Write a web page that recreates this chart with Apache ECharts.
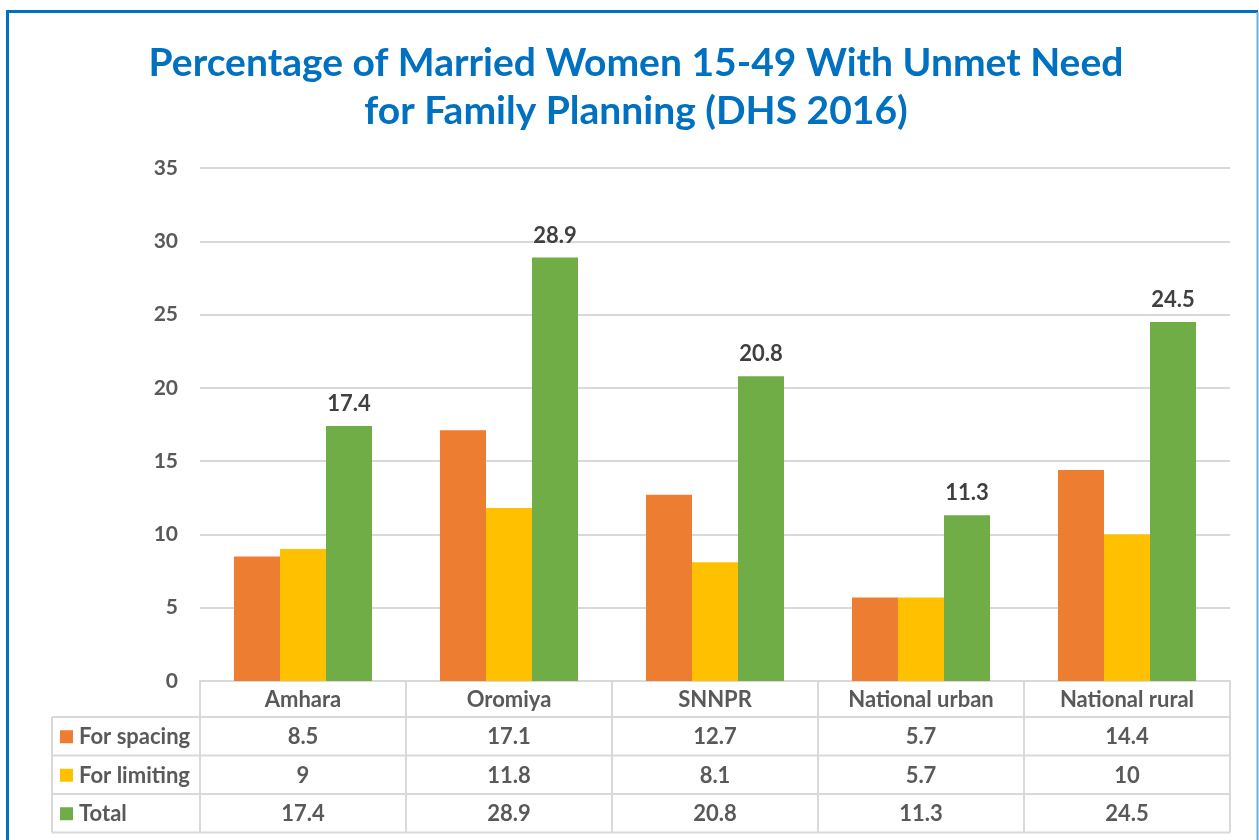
<!DOCTYPE html>
<html>
<head>
<meta charset="utf-8">
<script src="https://cdn.jsdelivr.net/npm/echarts@6/dist/echarts.min.js"></script>
<style>
  html, body { margin: 0; padding: 0; background: #fff; }
  #chart { width: 1259px; height: 840px; }
</style>
</head>
<body>
<div id="chart"></div>
<script>
// data
var categories = ['Amhara', 'Oromiya', 'SNNPR', 'National urban', 'National rural'];
var forSpacing = [8.5, 17.1, 12.7, 5.7, 14.4];
var forLimiting = [9, 11.8, 8.1, 5.7, 10];
var total = [17.4, 28.9, 20.8, 11.3, 24.5];
var yTicks = [0, 5, 10, 15, 20, 25, 30, 35];

var seriesNames = ['For spacing', 'For limiting', 'Total'];
var seriesColors = ['#ED7D31', '#FFC000', '#70AD47'];
var seriesData = [forSpacing, forLimiting, total];

var FONT = 'Lato, "Open Sans", sans-serif';
var TXT = '#595959';
var LINE = '#D9D9D9';

var gridLeft = 200, gridRight = 29, gridTop = 168, gridHeight = 513;
var axisY = gridTop + gridHeight;
var tableLeft = 52;
var headerH = 36, rowH = 38.5;
var colW = (1259 - gridLeft - gridRight) / categories.length;

var myChart = echarts.init(document.getElementById('chart'));

var graphics = [];
// frame
graphics.push({ type: 'line', shape: { x1: 7, y1: 11.5, x2: 1258, y2: 11.5 }, style: { stroke: '#0070C0', lineWidth: 3 } });
graphics.push({ type: 'line', shape: { x1: 7.5, y1: 10, x2: 7.5, y2: 840 }, style: { stroke: '#0070C0', lineWidth: 3 } });
graphics.push({ type: 'line', shape: { x1: 1257.5, y1: 12, x2: 1257.5, y2: 840 }, style: { stroke: '#6AAEE4', lineWidth: 2 } });

// data table below the axis
var tableRight = gridLeft + colW * categories.length;
var tableBottom = axisY + headerH + rowH * seriesNames.length;
for (var r = 0; r <= seriesNames.length; r++) {
  var y = axisY + headerH + rowH * r;
  graphics.push({ type: 'line', shape: { x1: tableLeft, y1: y, x2: tableRight, y2: y }, style: { stroke: LINE, lineWidth: 2 } });
}
graphics.push({ type: 'line', shape: { x1: tableLeft, y1: axisY + headerH, x2: tableLeft, y2: tableBottom }, style: { stroke: LINE, lineWidth: 2 } });

seriesNames.forEach(function (name, s) {
  var cy = axisY + headerH + rowH * (s + 0.5);
  graphics.push({ type: 'rect', shape: { x: 60, y: cy - 6, width: 13, height: 13 }, style: { fill: seriesColors[s] } });
  graphics.push({ type: 'text', x: 79, y: cy + 1, style: { text: name, font: 'bold 22px ' + FONT, fill: TXT, textVerticalAlign: 'middle' } });
  seriesData[s].forEach(function (v, i) {
    graphics.push({
      type: 'text', x: gridLeft + colW * (i + 0.5), y: cy + 1,
      style: { text: String(v), font: 'bold 22px ' + FONT, fill: TXT, textAlign: 'center', textVerticalAlign: 'middle' }
    });
  });
});

var option = {
  animation: false,
  title: {
    text: 'Percentage of Married Women 15-49 With Unmet Need\nfor Family Planning (DHS 2016)',
    left: 631,
    textAlign: 'center',
    top: 34,
    textStyle: { fontFamily: FONT, fontSize: 39, fontWeight: 'bold', color: '#0070C0', lineHeight: 48 }
  },
  grid: { left: gridLeft, right: gridRight, top: gridTop, height: gridHeight },
  xAxis: {
    type: 'category',
    data: categories,
    axisLine: { show: true, lineStyle: { color: LINE, width: 2 } },
    axisTick: { show: true, length: headerH + rowH * 3, lineStyle: { color: LINE, width: 2 } },
    axisLabel: { margin: 8, fontFamily: FONT, fontSize: 22, fontWeight: 'bold', color: TXT }
  },
  yAxis: {
    type: 'value',
    min: 0, max: 35, interval: 5,
    axisLine: { show: false },
    axisTick: { show: false },
    splitLine: { lineStyle: { color: LINE, width: 2 } },
    axisLabel: { margin: 22, fontFamily: FONT, fontSize: 21, fontWeight: 'bold', color: TXT,
      formatter: function (v) { return yTicks.indexOf(v) >= 0 ? String(v) : ''; } }
  },
  series: seriesNames.map(function (name, s) {
    return {
      name: name,
      type: 'bar',
      data: seriesData[s],
      barGap: 0,
      barCategoryGap: '33%',
      itemStyle: { color: seriesColors[s] },
      label: {
        show: s === 2,
        position: 'top',
        distance: 11,
        fontFamily: FONT, fontSize: 22, fontWeight: 'bold', color: '#404040'
      }
    };
  }),
  graphic: graphics
};

myChart.setOption(option);
</script>
</body>
</html>
